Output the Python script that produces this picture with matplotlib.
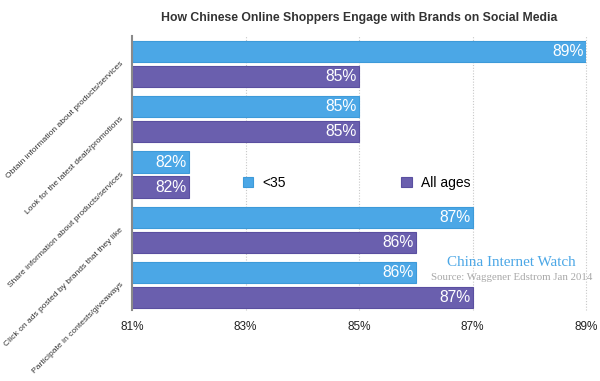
import matplotlib.pyplot as plt
import numpy as np

plt.rcParams['font.family'] = ['Liberation Sans', 'DejaVu Sans']

# Data
categories = [
    "Obtain information about products/services",
    "Look for the latest deals/promotions",
    "Share information about products/services",
    "Click on ads posted by brands that they like",
    "Participate in contests/giveaways",
]
under_35 = [89, 85, 82, 87, 86]
all_ages = [85, 85, 82, 86, 87]
x_ticks = [81, 83, 85, 87, 89]

blue = "#4BA7E6"
purple = "#6A5FAE"

fig = plt.figure(figsize=(6, 3.81), dpi=100)
ax = fig.add_axes([0.22, 0.1864, 0.7567, 0.7191])

y = np.arange(len(categories))
off = 0.227
h = 0.385
base = 81

b1 = ax.barh(y - off, np.array(under_35) - base, left=base, height=h,
             color=blue, edgecolor="#3D9AD9", linewidth=0.8, label="<35", zorder=2)
b2 = ax.barh(y + off, np.array(all_ages) - base, left=base, height=h,
             color=purple, edgecolor="#5A4FA0", linewidth=0.8, label="All ages", zorder=2)

# value labels inside the bar ends
for bars, vals in [(b1, under_35), (b2, all_ages)]:
    for bar, v in zip(bars, vals):
        ax.text(v - 0.04, bar.get_y() + bar.get_height() / 2, f"{v}%",
                ha="right", va="center", color="white", fontsize=11.3, zorder=3)

ax.set_xlim(81, 89)
ax.set_ylim(4.45, -0.507)
ax.set_xticks(x_ticks)
ax.set_xticklabels([f"{t}%" for t in x_ticks], fontsize=8.5, color="#222222")
ax.tick_params(axis="x", length=0, pad=8)

ax.set_yticks(y)
ax.set_yticklabels(categories, rotation=45, ha="right", va="baseline",
                   rotation_mode="anchor", fontsize=6.1, color="#333333")
ax.tick_params(axis="y", length=0, pad=6)

for t in x_ticks[1:]:
    ax.axvline(t, color="#C8C8C8", linestyle=(0, (1, 1.5)), linewidth=0.8,
               zorder=1, clip_on=False)

for s in ["top", "right", "bottom"]:
    ax.spines[s].set_visible(False)
ax.spines["left"].set_color("#8A8A8A")
ax.spines["left"].set_linewidth(1.5)

ax.set_title("How Chinese Online Shoppers Engage with Brands on Social Media",
             fontsize=8.8, fontweight="bold", color="#333333", pad=11)

ax.legend(loc="center left", bbox_to_anchor=(0.2445, 0.4635), ncol=2, frameon=False,
          fontsize=10, handlelength=0.75, handleheight=0.75, borderpad=0,
          borderaxespad=0, columnspacing=8.3, handletextpad=0.65)

fig.text(0.852, 0.312, "China Internet Watch", family="Liberation Serif",
         fontsize=10.9, color="#4BA7E6", ha="center", va="center")
fig.text(0.852, 0.272, "Source: Waggener Edstrom Jan 2014", family="Liberation Serif",
         fontsize=7.8, color="#A8A8A8", ha="center", va="center")

fig.savefig("out.png", dpi=100)
